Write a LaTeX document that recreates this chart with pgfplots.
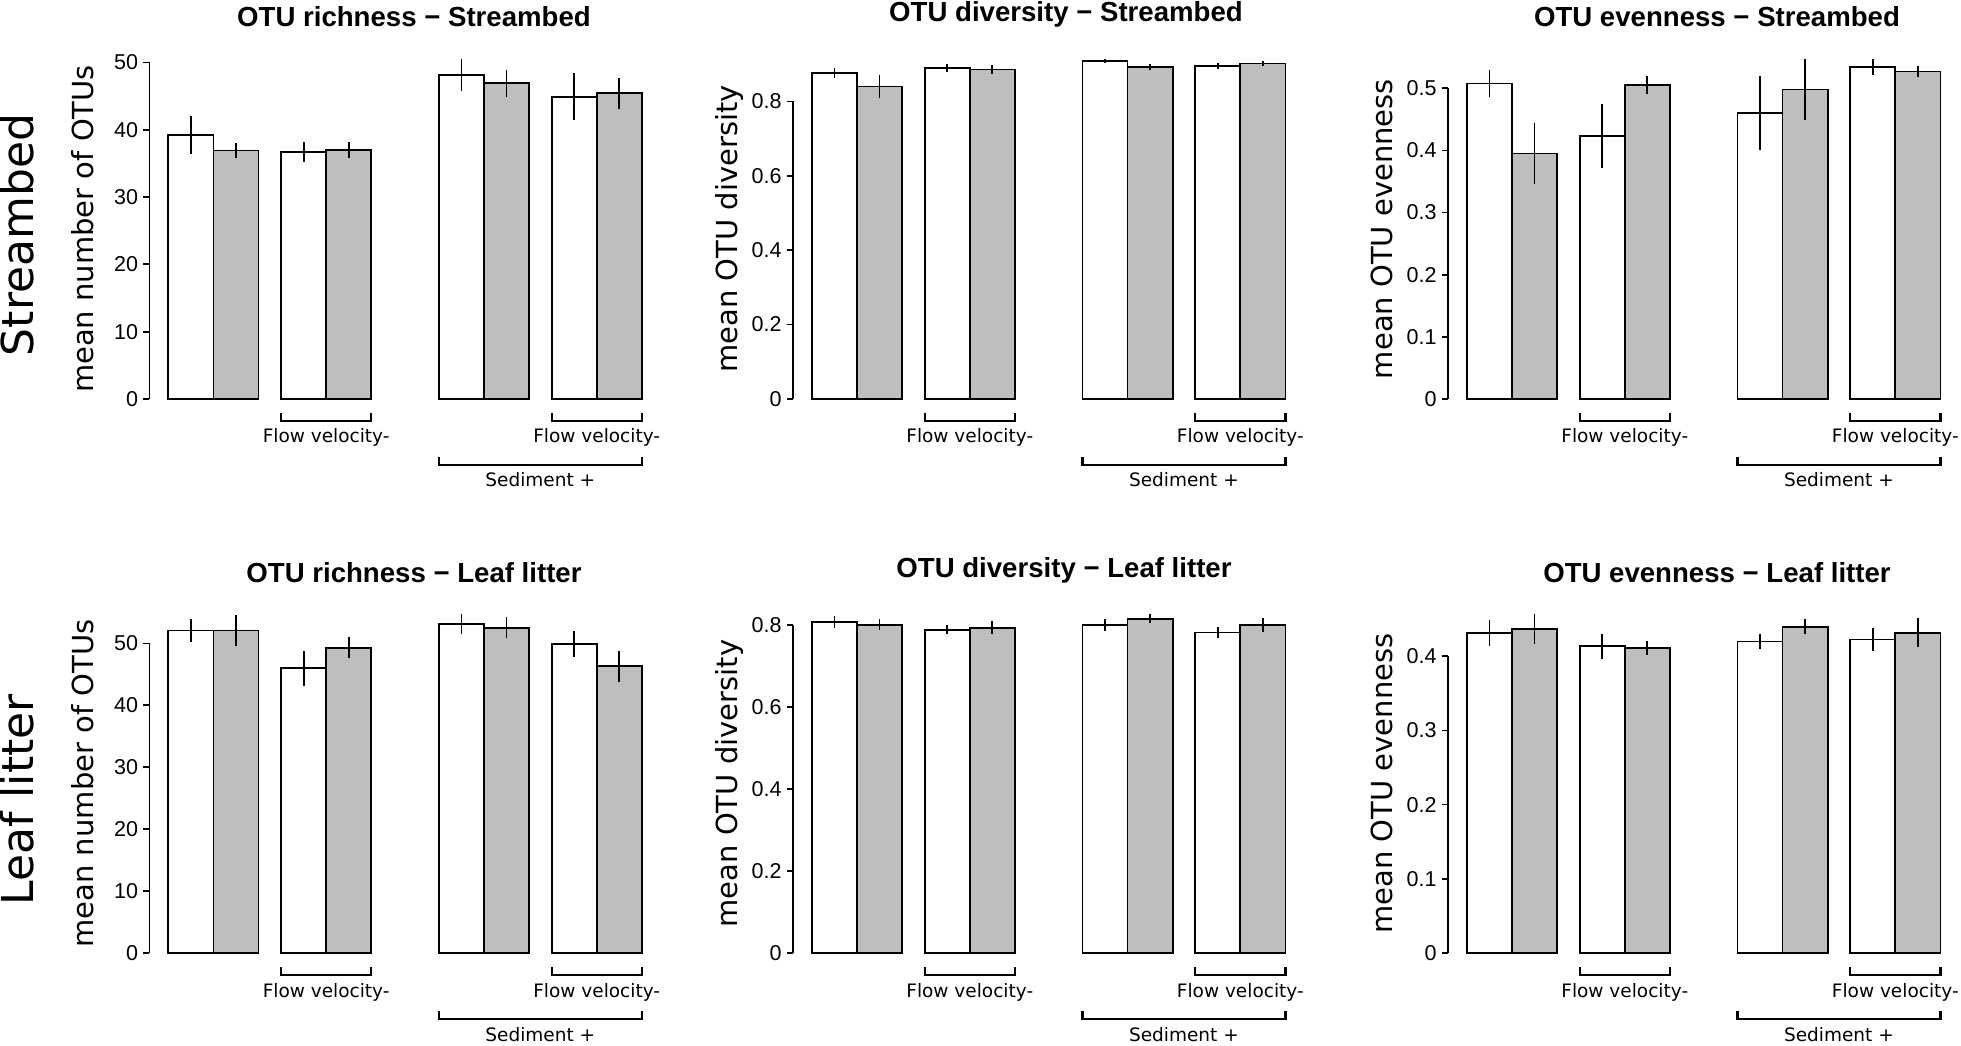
\documentclass[border=0pt]{standalone}
\usepackage{fontspec}
\setmainfont{Liberation Sans}
\newfontfamily\dv{DejaVu Sans}
\usepackage{pgfplots}
\usepackage{pgfplotstable}
\pgfplotsset{compat=1.18}
\definecolor{rgray}{HTML}{BEBEBE}

% panel data: x = bar centre (bar width 1), y = mean, e = error
\pgfplotstableread{
x y e
0.5 39.2 2.8
3.0 36.7 1.5
6.5 48.1 2.4
9.0 44.9 3.45
}\PaW
\pgfplotstableread{
x y e
1.5 36.9 1.1
4.0 37.0 1.2
7.5 46.9 2.0
10.0 45.4 2.3
}\PaG
\pgfplotstableread{
x y e
0.5 0.877 0.013
3.0 0.890 0.010
6.5 0.909 0.005
9.0 0.896 0.008
}\PbW
\pgfplotstableread{
x y e
1.5 0.840 0.032
4.0 0.886 0.012
7.5 0.893 0.008
10.0 0.902 0.007
}\PbG
\pgfplotstableread{
x y e
0.5 0.5075 0.021
3.0 0.423 0.051
6.5 0.460 0.060
9.0 0.534 0.013
}\PcW
\pgfplotstableread{
x y e
1.5 0.395 0.049
4.0 0.505 0.015
7.5 0.498 0.049
10.0 0.527 0.009
}\PcG
\pgfplotstableread{
x y e
0.5 52.1 1.85
3.0 46.0 2.85
6.5 53.1 1.65
9.0 49.9 2.1
}\PdW
\pgfplotstableread{
x y e
1.5 52.1 2.5
4.0 49.3 1.7
7.5 52.5 1.7
10.0 46.3 2.5
}\PdG
\pgfplotstableread{
x y e
0.5 0.808 0.014
3.0 0.788 0.011
6.5 0.800 0.014
9.0 0.782 0.0125
}\PeW
\pgfplotstableread{
x y e
1.5 0.801 0.013
4.0 0.7935 0.016
7.5 0.8155 0.011
10.0 0.800 0.017
}\PeG
\pgfplotstableread{
x y e
0.5 0.4315 0.017
3.0 0.4135 0.0165
6.5 0.420 0.0105
9.0 0.4225 0.0157
}\PfW
\pgfplotstableread{
x y e
1.5 0.437 0.020
4.0 0.411 0.0095
7.5 0.4395 0.0101
10.0 0.4315 0.0196
}\PfG

\pgfplotsset{
  panel/.style={
    scale only axis, width=246.2pt, anchor=south west,
    xmin=-0.42, xmax=10.5, ymin=0,
    axis x line=none, axis y line*=left,
    y axis line style={draw=none},
    xtick=\empty,
    tick align=outside, major tick length=3pt,
    ytick style={line width=0.85pt, black},
    yticklabel style={font=\fontsize{10.75}{12}\selectfont, inner sep=0pt, xshift=-2.5pt},
    /pgf/number format/assume math mode=true,
    clip=false,
    bar width=1, bar shift=0pt,
  },
  wbar/.style={ybar, bar width=1, bar shift=0pt, draw=black, fill=white, line width=0.9pt,
    error bars/.cd, y dir=both, y explicit, error mark=none,
    error bar style={line width=0.9pt, black}},
  gbar/.style={ybar, bar width=1, bar shift=0pt, draw=black, fill=rgray, line width=0.9pt,
    error bars/.cd, y dir=both, y explicit, error mark=none,
    error bar style={line width=0.9pt, black}},
}

\newcommand{\brackets}{%
  \draw[line width=1.1pt] ([yshift=-7pt]axis cs:2.5,0) -- ([yshift=-11pt]axis cs:2.5,0) -- ([yshift=-11pt]axis cs:4.5,0) -- ([yshift=-7pt]axis cs:4.5,0);
  \draw[line width=1.1pt] ([yshift=-7pt]axis cs:8.5,0) -- ([yshift=-11pt]axis cs:8.5,0) -- ([yshift=-11pt]axis cs:10.5,0) -- ([yshift=-7pt]axis cs:10.5,0);
  \draw[line width=1.1pt] ([yshift=-29pt]axis cs:6,0) -- ([yshift=-33pt]axis cs:6,0) -- ([yshift=-33pt]axis cs:10.5,0) -- ([yshift=-29pt]axis cs:10.5,0);
  \node[anchor=base, inner sep=0pt, font=\dv\fontsize{9.25}{10}\selectfont] at ([yshift=-22pt]axis cs:3.5,0) {Flow velocity-};
  \node[anchor=base, inner sep=0pt, font=\dv\fontsize{9.25}{10}\selectfont] at ([yshift=-22pt]axis cs:9.5,0) {Flow velocity-};
  \node[anchor=base, inner sep=0pt, font=\dv\fontsize{9.25}{10}\selectfont] at ([yshift=-44pt]axis cs:8.25,0) {Sediment +};
}

\begin{document}
\begin{tikzpicture}
\useasboundingbox (0,0) rectangle (980.5pt,522.5pt);

% ---------- Row 1: Streambed ----------
\begin{axis}[panel, at={(74.7pt,323pt)}, height=170pt, ymax=50.5, ytick={0,10,20,30,40,50}]
\addplot[wbar] table[x=x,y=y,y error=e] {\PaW};
\addplot[gbar] table[x=x,y=y,y error=e] {\PaG};
\draw[line width=0.9pt] (axis cs:-0.42,0) -- (axis cs:-0.42,50);
\brackets
\end{axis}

\begin{axis}[panel, at={(396.5pt,323pt)}, height=170pt, ymax=0.914, ytick={0,0.2,0.4,0.6,0.8}]
\addplot[wbar] table[x=x,y=y,y error=e] {\PbW};
\addplot[gbar] table[x=x,y=y,y error=e] {\PbG};
\draw[line width=0.9pt] (axis cs:-0.42,0) -- (axis cs:-0.42,0.8);
\brackets
\end{axis}

\begin{axis}[panel, at={(724pt,323pt)}, height=170pt, ymax=0.547, ytick={0,0.1,0.2,0.3,0.4,0.5}]
\addplot[wbar] table[x=x,y=y,y error=e] {\PcW};
\addplot[gbar] table[x=x,y=y,y error=e] {\PcG};
\draw[line width=0.9pt] (axis cs:-0.42,0) -- (axis cs:-0.42,0.5);
\brackets
\end{axis}

% ---------- Row 2: Leaf litter ----------
\begin{axis}[panel, at={(74.7pt,46pt)}, height=169.5pt, ymax=54.75, ytick={0,10,20,30,40,50}]
\addplot[wbar] table[x=x,y=y,y error=e] {\PdW};
\addplot[gbar] table[x=x,y=y,y error=e] {\PdG};
\draw[line width=0.9pt] (axis cs:-0.42,0) -- (axis cs:-0.42,50);
\brackets
\end{axis}

\begin{axis}[panel, at={(396.5pt,46pt)}, height=169.5pt, ymax=0.827, ytick={0,0.2,0.4,0.6,0.8}]
\addplot[wbar] table[x=x,y=y,y error=e] {\PeW};
\addplot[gbar] table[x=x,y=y,y error=e] {\PeG};
\draw[line width=0.9pt] (axis cs:-0.42,0) -- (axis cs:-0.42,0.8);
\brackets
\end{axis}

\begin{axis}[panel, at={(724pt,46pt)}, height=169.5pt, ymax=0.457, ytick={0,0.1,0.2,0.3,0.4}]
\addplot[wbar] table[x=x,y=y,y error=e] {\PfW};
\addplot[gbar] table[x=x,y=y,y error=e] {\PfG};
\draw[line width=0.9pt] (axis cs:-0.42,0) -- (axis cs:-0.42,0.4);
\brackets
\end{axis}

% ---------- Titles ----------
\begin{scope}[every node/.style={anchor=base, inner sep=0pt, font=\bfseries\fontsize{13.8}{16}\selectfont}]
\node at (207pt,509pt) {OTU richness − Streambed};
\node at (533pt,511.5pt) {OTU diversity − Streambed};
\node at (858.5pt,509pt) {OTU evenness − Streambed};
\node at (207pt,231pt) {OTU richness − Leaf litter};
\node at (532pt,233.5pt) {OTU diversity − Leaf litter};
\node at (858.5pt,231pt) {OTU evenness − Leaf litter};
\end{scope}

% ---------- Y labels ----------
\begin{scope}[every node/.style={anchor=base, rotate=90, inner sep=0pt, font=\dv\fontsize{14.5}{16}\selectfont}]
\node at (46.7pt,408pt) {mean number of OTUs};
\node at (368.5pt,408pt) {mean OTU diversity};
\node at (696pt,408pt) {mean OTU evenness};
\node at (46.7pt,130.75pt) {mean number of OTUs};
\node at (368.5pt,130.75pt) {mean OTU diversity};
\node at (696pt,130.75pt) {mean OTU evenness};
\end{scope}

% ---------- Row labels ----------
\node[anchor=base, rotate=90, inner sep=0pt, font=\dv\fontsize{22}{24}\selectfont] at (16.5pt,405pt) {Streambed};
\node[anchor=base, rotate=90, inner sep=0pt, font=\dv\fontsize{22}{24}\selectfont] at (16.5pt,122.5pt) {Leaf litter};
\end{tikzpicture}
\end{document}
